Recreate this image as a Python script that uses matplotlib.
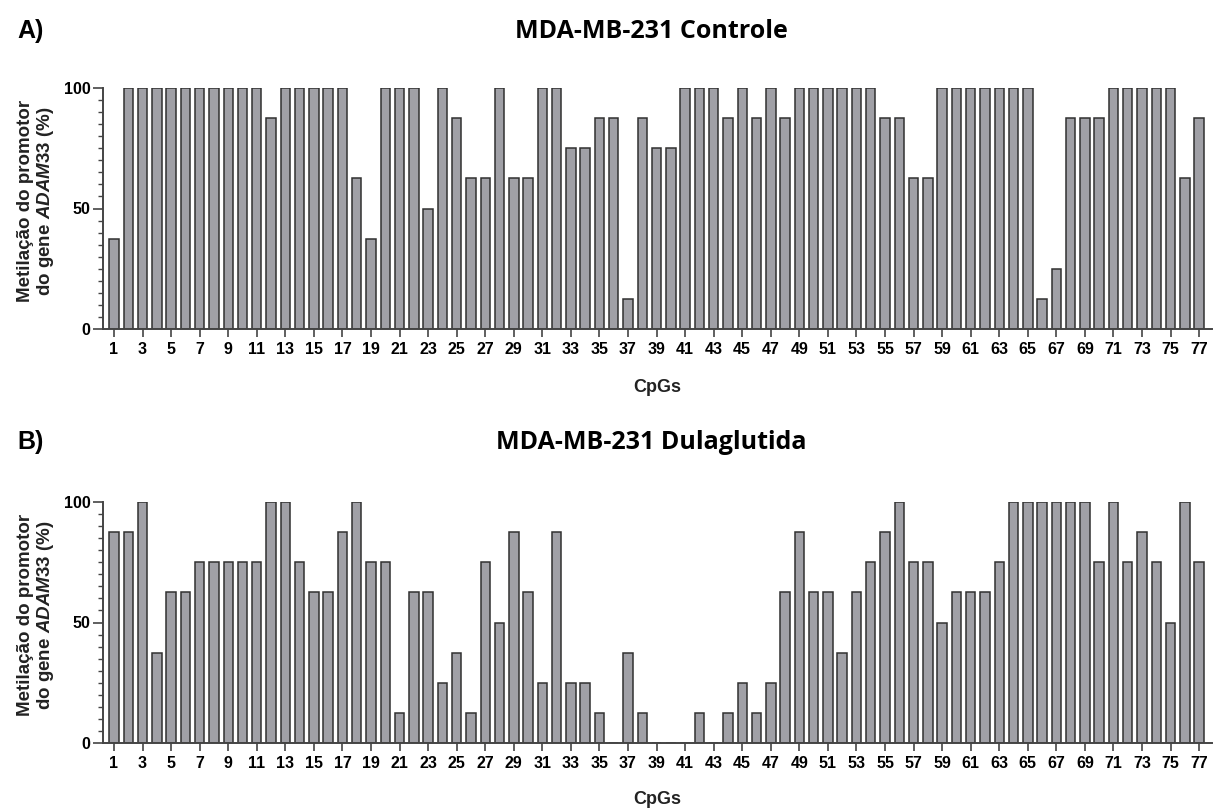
import matplotlib
matplotlib.use("Agg")
import matplotlib.pyplot as plt
import numpy as np
from matplotlib.ticker import MultipleLocator

plt.rcParams["font.family"] = ["Liberation Sans", "DejaVu Sans"]
plt.rcParams["mathtext.fontset"] = "custom"
plt.rcParams["mathtext.it"] = "Liberation Sans:italic:bold"
plt.rcParams["mathtext.rm"] = "Liberation Sans:bold"

cpgs = np.arange(1, 78)

controle = [
    37.5, 100, 100, 100, 100, 100, 100, 100, 100, 100,
    100, 87.5, 100, 100, 100, 100, 100, 62.5, 37.5, 100,
    100, 100, 50, 100, 87.5, 62.5, 62.5, 100, 62.5, 62.5,
    100, 100, 75, 75, 87.5, 87.5, 12.5, 87.5, 75, 75,
    100, 100, 100, 87.5, 100, 87.5, 100, 87.5, 100, 100,
    100, 100, 100, 100, 87.5, 87.5, 62.5, 62.5, 100, 100,
    100, 100, 100, 100, 100, 12.5, 25, 87.5, 87.5, 87.5,
    100, 100, 100, 100, 100, 62.5, 87.5,
]

dulaglutida = [
    87.5, 87.5, 100, 37.5, 62.5, 62.5, 75, 75, 75, 75,
    75, 100, 100, 75, 62.5, 62.5, 87.5, 100, 75, 75,
    12.5, 62.5, 62.5, 25, 37.5, 12.5, 75, 50, 87.5, 62.5,
    25, 87.5, 25, 25, 12.5, 0, 37.5, 12.5, 0, 0,
    0, 12.5, 0, 12.5, 25, 12.5, 25, 62.5, 87.5, 62.5,
    62.5, 37.5, 62.5, 75, 87.5, 100, 75, 75, 50, 62.5,
    62.5, 62.5, 75, 100, 100, 100, 100, 100, 100, 75,
    100, 75, 87.5, 75, 50, 100, 75,
]

panels = [
    ("A)", "MDA-MB-231 Controle", controle),
    ("B)", "MDA-MB-231 Dulaglutida", dulaglutida),
]

W, H = 1214, 808
fig = plt.figure(figsize=(W / 100, H / 100), dpi=100)

# pixel rows: axes top, axes bottom, title centre, x label centre
boxes = [(88, 329, 31, 387), (502, 743, 442, 799)]
left_px, right_px = 103, 1212

spine_col = "#444444"
for (tag, title, vals), (top, bot, title_y, xlab_y) in zip(panels, boxes):
    ax = fig.add_axes([left_px / W, 1 - bot / H, (right_px - left_px) / W, (bot - top) / H])
    ax.bar(cpgs, vals, width=0.66, color="#a0a0a6", edgecolor="#303030", linewidth=1.1)
    ax.set_xlim(0.23, 77.9)
    ax.set_ylim(0, 100)
    ax.set_yticks([0, 50, 100])
    ax.yaxis.set_minor_locator(MultipleLocator(5))
    ax.set_xticks(cpgs[::2])
    ax.tick_params(axis="both", which="major", labelsize=11.5, width=1.2, color=spine_col, pad=3)
    ax.tick_params(axis="y", which="major", length=7, pad=2)
    ax.tick_params(axis="y", which="minor", length=3.5, width=1.0, color=spine_col)
    ax.tick_params(axis="x", which="major", length=6)
    for lbl in ax.get_xticklabels() + ax.get_yticklabels():
        lbl.set_fontweight("bold")
    for side in ("top", "right"):
        ax.spines[side].set_visible(False)
    for side in ("left", "bottom"):
        ax.spines[side].set_color(spine_col)
        ax.spines[side].set_linewidth(1.4)

    ax.set_ylabel("Metilação do promotor\ndo gene $\\mathit{ADAM33}$ (%)",
                  fontsize=13.5, fontweight="bold", linespacing=1.1, color="#222222")
    ax.yaxis.set_label_coords(-0.042, 0.53)

    fig.text((left_px + right_px) / 2 / W, 1 - xlab_y / H, "CpGs",
             ha="center", va="center", fontsize=13, fontweight="bold", color="#222222")
    fig.text(651 / W, 1 - title_y / H, title, ha="center", va="center",
             fontsize=18, fontweight="bold", family=["Open Sans", "DejaVu Sans"])
    fig.text(17 / W, 1 - title_y / H, tag, ha="left", va="center",
             fontsize=18, fontweight="bold")

fig.savefig("out.png", dpi=100)
